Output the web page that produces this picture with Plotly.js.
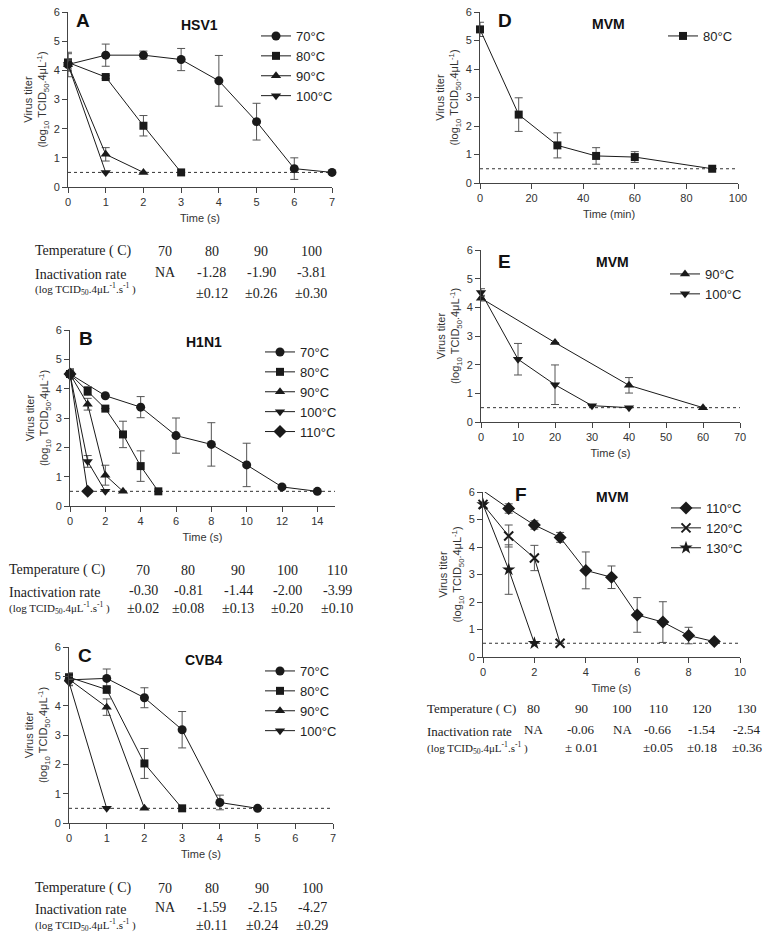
<!DOCTYPE html>
<html>
<head>
<meta charset="utf-8">
<script src="https://cdn.plot.ly/plotly-3.0.1.min.js"></script>
<style>
  body { margin: 0; background: #fff; }
  #fig { width: 780px; height: 940px; }
</style>
</head>
<body>
<div id="fig"></div>
<script>
// detection limit drawn as dotted line in every panel
const detectionLimit = 0.5;

// ---- A: HSV1 ----
const hsv70Time = [0, 1, 2, 3, 4, 5, 6, 7];
const hsv70 = [4.2, 4.52, 4.52, 4.37, 3.64, 2.24, 0.63, 0.5];
const hsv70Err = [0.42, 0.38, 0.14, 0.38, 0.87, 0.63, 0.37, 0];
const hsv80Time = [0, 1, 2, 3];
const hsv80 = [4.27, 3.77, 2.1, 0.5];
const hsv80Err = [0.3, 0.05, 0.35, 0];
const hsv90Time = [0, 1, 2];
const hsv90 = [4.2, 1.12, 0.5];
const hsv90Err = [0.2, 0.23, 0];
const hsv100Time = [0, 1];
const hsv100 = [4.2, 0.5];
const hsv100Err = [0.15, 0];

// ---- B: H1N1 ----
const h1n170Time = [0, 2, 4, 6, 8, 10, 12, 14];
const h1n170 = [4.5, 3.76, 3.37, 2.4, 2.1, 1.4, 0.65, 0.5];
const h1n170Err = [0.18, 0, 0.36, 0.6, 0.74, 0.74, 0, 0];
const h1n180Time = [0, 1, 2, 3, 4, 5];
const h1n180 = [4.5, 3.92, 3.32, 2.44, 1.36, 0.5];
const h1n180Err = [0.15, 0.15, 0, 0.45, 0.52, 0];
const h1n190Time = [0, 1, 2, 3];
const h1n190 = [4.5, 3.47, 1.05, 0.5];
const h1n190Err = [0.1, 0.2, 0.34, 0];
const h1n1100Time = [0, 1, 2];
const h1n1100 = [4.5, 1.52, 0.5];
const h1n1100Err = [0.1, 0.2, 0];
const h1n1110Time = [0, 1];
const h1n1110 = [4.5, 0.5];
const h1n1110Err = [0.1, 0];

// ---- C: CVB4 ----
const cvb70Time = [0, 1, 2, 3, 4, 5];
const cvb70 = [4.88, 4.93, 4.27, 3.18, 0.7, 0.5];
const cvb70Err = [0.2, 0.32, 0.34, 0.62, 0.25, 0];
const cvb80Time = [0, 1, 2, 3];
const cvb80 = [4.97, 4.55, 2.03, 0.5];
const cvb80Err = [0.15, 0.13, 0.51, 0];
const cvb90Time = [0, 1, 2];
const cvb90 = [4.9, 3.95, 0.5];
const cvb90Err = [0.1, 0.28, 0];
const cvb100Time = [0, 1];
const cvb100 = [4.8, 0.5];
const cvb100Err = [0.1, 0];

// ---- D: MVM, minutes ----
const mvmMinTime = [0, 15, 30, 45, 60, 90];
const mvm80 = [5.39, 2.4, 1.32, 0.95, 0.91, 0.5];
const mvm80Err = [0.25, 0.59, 0.44, 0.29, 0.19, 0];

// ---- E: MVM, seconds ----
const mvm90Time = [0, 20, 40, 60];
const mvm90 = [4.32, 2.77, 1.28, 0.5];
const mvm90Err = [0.1, 0, 0.27, 0];
const mvm100Time = [0, 10, 20, 30, 40];
const mvm100 = [4.52, 2.19, 1.3, 0.57, 0.5];
const mvm100Err = [0.13, 0.55, 0.69, 0, 0];

// ---- F: MVM, high temperatures ----
const mvm110Time = [0, 1, 2, 3, 4, 5, 6, 7, 8, 9];
const mvm110 = [6.05, 5.4, 4.8, 4.35, 3.15, 2.9, 1.53, 1.27, 0.78, 0.56];
const mvm110Err = [0, 0.17, 0.15, 0.18, 0.67, 0.41, 0.63, 0.74, 0.3, 0];
const mvm120Time = [0, 1, 2, 3];
const mvm120 = [5.55, 4.4, 3.6, 0.5];
const mvm120Err = [0, 0.4, 0.46, 0];
const mvm130Time = [0, 1, 2];
const mvm130 = [5.55, 3.18, 0.5];
const mvm130Err = [0, 0.9, 0];

// ---- tables ----
const tempsA = ['70', '80', '90', '100'];
const ratesA = ['NA', '-1.28', '-1.90', '-3.81'];
const sdA = ['', '±0.12', '±0.26', '±0.30'];
const tempsB = ['70', '80', '90', '100', '110'];
const ratesB = ['-0.30', '-0.81', '-1.44', '-2.00', '-3.99'];
const sdB = ['±0.02', '±0.08', '±0.13', '±0.20', '±0.10'];
const tempsC = ['70', '80', '90', '100'];
const ratesC = ['NA', '-1.59', '-2.15', '-4.27'];
const sdC = ['', '±0.11', '±0.24', '±0.29'];
const tempsF = ['80', '90', '100', '110', '120', '130'];
const ratesF = ['NA', '-0.06', 'NA', '-0.66', '-1.54', '-2.54'];
const sdF = ['', '± 0.01', '', '±0.05', '±0.18', '±0.36'];

const W = 780, H = 940;
const px = v => v / W;
const py = v => 1 - v / H;
const sans = 'Liberation Sans, Arial, sans-serif';
const serif = 'Liberation Serif, Times New Roman, serif';
const ink = '#1a1a1a';

function series(name, xs, ys, errs, symbol, n, size) {
  const isX = symbol === 'x-thin-open';
  return {
    name: name, x: xs, y: ys,
    type: 'scatter', mode: 'lines+markers',
    xaxis: 'x' + (n === 1 ? '' : n), yaxis: 'y' + (n === 1 ? '' : n),
    legend: n === 1 ? 'legend' : 'legend' + n,
    line: { color: ink, width: 1 },
    marker: { symbol: symbol, size: size || 9, color: ink,
              line: { color: ink, width: isX ? 2 : 0 } },
    error_y: { type: 'data', array: errs, visible: true, color: '#555', thickness: 1, width: 4 },
    cliponaxis: false
  };
}

const data = [
  series('70°C', hsv70Time, hsv70, hsv70Err, 'circle', 1),
  series('80°C', hsv80Time, hsv80, hsv80Err, 'square', 1, 8),
  series('90°C', hsv90Time, hsv90, hsv90Err, 'triangle-up', 1),
  series('100°C', hsv100Time, hsv100, hsv100Err, 'triangle-down', 1),

  series('70°C', h1n170Time, h1n170, h1n170Err, 'circle', 2),
  series('80°C', h1n180Time, h1n180, h1n180Err, 'square', 2, 8),
  series('90°C', h1n190Time, h1n190, h1n190Err, 'triangle-up', 2),
  series('100°C', h1n1100Time, h1n1100, h1n1100Err, 'triangle-down', 2),
  series('110°C', h1n1110Time, h1n1110, h1n1110Err, 'diamond', 2, 10),

  series('70°C', cvb70Time, cvb70, cvb70Err, 'circle', 3),
  series('80°C', cvb80Time, cvb80, cvb80Err, 'square', 3, 8),
  series('90°C', cvb90Time, cvb90, cvb90Err, 'triangle-up', 3),
  series('100°C', cvb100Time, cvb100, cvb100Err, 'triangle-down', 3),

  series('80°C', mvmMinTime, mvm80, mvm80Err, 'square', 4, 8),

  series('90°C', mvm90Time, mvm90, mvm90Err, 'triangle-up', 5),
  series('100°C', mvm100Time, mvm100, mvm100Err, 'triangle-down', 5),

  series('110°C', mvm110Time, mvm110, mvm110Err, 'diamond', 6, 10),
  series('120°C', mvm120Time, mvm120, mvm120Err, 'x-thin-open', 6, 9),
  series('130°C', mvm130Time, mvm130, mvm130Err, 'star', 6, 10)
];

// panel boxes in page pixels: [left, right, top, bottom]
const boxes = {
  1: [68, 332, 12, 187],
  2: [70, 335, 330, 506],
  3: [69, 333, 647, 823],
  4: [480, 738, 12, 183],
  5: [481, 740, 250, 422],
  6: [483, 740, 492, 657]
};
const xRanges = { 1: [0, 7], 2: [0, 15], 3: [0, 7], 4: [0, 100], 5: [0, 70], 6: [0, 10] };
const xSteps = { 1: 1, 2: 2, 3: 1, 4: 20, 5: 10, 6: 2 };
const xTitles = { 1: 'Time (s)', 2: 'Time (s)', 3: 'Time (s)', 4: 'Time (min)', 5: 'Time (s)', 6: 'Time (s)' };
const yTitle = 'Virus titer<br>(log<sub>10</sub> TCID<sub>50</sub>.4μL<sup>-1</sup>)';

const layout = {
  width: W, height: H,
  margin: { l: 0, r: 0, t: 0, b: 0 },
  paper_bgcolor: '#fff', plot_bgcolor: '#fff',
  font: { family: sans, color: '#222', size: 11 },
  showlegend: true,
  shapes: [],
  annotations: []
};

function axisCommon() {
  return {
    showgrid: false, zeroline: false, showline: true,
    linecolor: '#444', linewidth: 1,
    ticks: 'outside', ticklen: 5, tickwidth: 1, tickcolor: '#444',
    tickfont: { size: 11, color: '#333', family: sans }
  };
}

for (let n = 1; n <= 6; n++) {
  const b = boxes[n];
  const s = n === 1 ? '' : String(n);
  layout['xaxis' + s] = Object.assign(axisCommon(), {
    domain: [px(b[0]), px(b[1])], anchor: 'y' + s,
    range: xRanges[n], dtick: xSteps[n], tick0: 0,
    title: { text: xTitles[n], font: { size: 11, color: '#333' }, standoff: 7 }
  });
  layout['yaxis' + s] = Object.assign(axisCommon(), {
    domain: [py(b[3]), py(b[2])], anchor: 'x' + s,
    range: [0, 6], dtick: 1, tick0: 0,
    title: { text: yTitle, font: { size: 11, color: '#333' }, standoff: 4 }
  });
  layout.shapes.push({
    type: 'line', xref: 'x' + s, yref: 'y' + s,
    x0: xRanges[n][0], x1: xRanges[n][1], y0: detectionLimit, y1: detectionLimit,
    line: { color: '#333', width: 1, dash: 'dot' }, layer: 'below'
  });
}

// legends: [left, top]
const legendPos = { 1: [256, 21], 2: [260, 337], 3: [260, 656], 4: [663, 21], 5: [665, 259], 6: [666, 493] };
for (let n = 1; n <= 6; n++) {
  const key = n === 1 ? 'legend' : 'legend' + n;
  layout[key] = {
    x: px(legendPos[n][0]), y: py(legendPos[n][1]),
    xanchor: 'left', yanchor: 'top',
    bgcolor: 'rgba(0,0,0,0)', borderwidth: 0,
    font: { size: 13, family: sans, color: '#222' },
    itemwidth: 30, tracegroupgap: 0
  };
}

function note(text, x, y, opts) {
  layout.annotations.push(Object.assign({
    text: text, xref: 'paper', yref: 'paper', x: px(x), y: py(y),
    xanchor: 'center', yanchor: 'middle', showarrow: false,
    font: { family: sans, size: 13, color: '#222' }
  }, opts || {}));
}

// panel letters and virus names
const panelLetters = [['A', 83, 21], ['B', 86, 338], ['C', 85, 655], ['D', 505, 21], ['E', 504, 261], ['F', 521, 494]];
panelLetters.forEach(p => note('<b>' + p[0] + '</b>', p[1], p[2], { font: { family: sans, size: 19, color: '#111' } }));
const panelNames = [['HSV1', 200, 25], ['H1N1', 204, 342], ['CVB4', 204, 660], ['MVM', 608, 24], ['MVM', 612, 262], ['MVM', 612, 497]];
panelNames.forEach(p => note('<b>' + p[0] + '</b>', p[1], p[2], { font: { family: sans, size: 14, color: '#111' } }));

// tables under panels
const unitLabel = '(log TCID<sub>50</sub>.4μL<sup>-1</sup>.s<sup>-1</sup> )';
function table(left, cols, rows, temps, rates, sds, size) {
  const big = { family: serif, size: size, color: '#222' };
  note('Temperature ( C)', left, rows[0], { xanchor: 'left', font: big });
  note('Inactivation rate', left, rows[1] + 2, { xanchor: 'left', font: big });
  note(unitLabel, left, rows[2], { xanchor: 'left', font: { family: serif, size: 11, color: '#222' } });
  temps.forEach((t, i) => {
    note(t, cols[i], rows[0], { font: big });
    note(rates[i], cols[i], rows[1], { font: big });
    if (sds[i]) note(sds[i], cols[i], rows[3], { font: big });
  });
}
table(33, [165, 212, 261, 311], [251, 272, 289, 294], tempsA, ratesA, sdA, 14);
table(7, [143, 188, 238, 287, 337], [570, 590, 608, 608], tempsB, ratesB, sdB, 14);
table(33, [165, 212, 262, 312], [888, 907, 925, 925], tempsC, ratesC, sdC, 14);
table(425, [533, 581, 622, 658, 702, 747], [708, 729, 748, 747], tempsF, ratesF, sdF, 13);

Plotly.newPlot('fig', data, layout, { displayModeBar: false, staticPlot: true });
</script>
</body>
</html>
